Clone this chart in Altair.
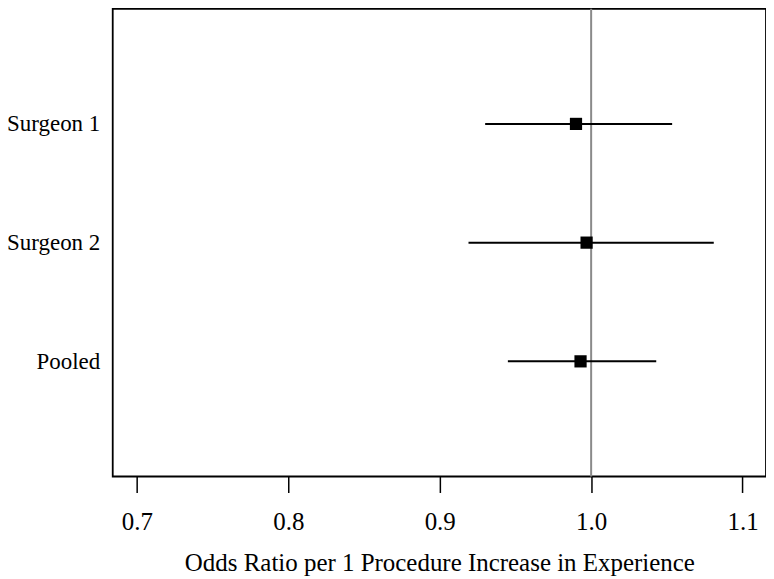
import altair as alt
import pandas as pd

groups = ["Surgeon 1", "Surgeon 2", "Pooled"]
odds_ratio = [0.990, 0.997, 0.993]
ci_low = [0.930, 0.919, 0.945]
ci_high = [1.0535, 1.081, 1.043]
x_ticks = [0.7, 0.8, 0.9, 1.0, 1.1]
ref_value = [1.0]

df = pd.DataFrame({"group": groups, "or": odds_ratio, "lo": ci_low, "hi": ci_high})
ref = pd.DataFrame({"ref": ref_value})

FONT = "Liberation Serif"
xscale = alt.Scale(domain=[0.684, 1.1155], nice=False, zero=False)
yscale = alt.Scale(type="point", domain=groups, padding=0.97)

xaxis = alt.Axis(
    values=x_ticks, format=".1f", grid=False, domain=False,
    ticks=True, tickSize=16, tickColor="black", tickWidth=1.5,
    labelFont=FONT, labelFontSize=25, labelColor="black", labelPadding=17,
    title="Odds Ratio per 1 Procedure Increase in Experience",
    titleFont=FONT, titleFontSize=25, titleFontWeight="normal", titleColor="black",
    titlePadding=16,
)
yaxis = alt.Axis(
    grid=False, domain=False, ticks=False, title=None,
    labelFont=FONT, labelFontSize=23, labelColor="black", labelPadding=13,
)

refline = alt.Chart(ref).mark_rule(color="#8a8a8a", strokeWidth=2).encode(
    x=alt.X("ref:Q", scale=xscale, axis=xaxis)
)

bars = alt.Chart(df).mark_rule(color="black", strokeWidth=2).encode(
    x=alt.X("lo:Q", scale=xscale, axis=xaxis),
    x2="hi:Q",
    y=alt.Y("group:N", scale=yscale, axis=yaxis, sort=groups),
)

points = alt.Chart(df).mark_point(shape="square", filled=True, color="black", size=150, opacity=1).encode(
    x=alt.X("or:Q", scale=xscale, axis=xaxis),
    y=alt.Y("group:N", scale=yscale, axis=yaxis, sort=groups),
)

chart = alt.layer(refline, bars, points).properties(
    width=655, height=469,
    background="white",
    autosize=alt.AutoSizeParams(type="none"),
    padding={"left": 105, "top": 0, "right": 0, "bottom": 100},
).configure_view(
    stroke="black", strokeWidth=1.8
)

chart.save("out.html", embed_options={"renderer": "svg", "actions": False})
